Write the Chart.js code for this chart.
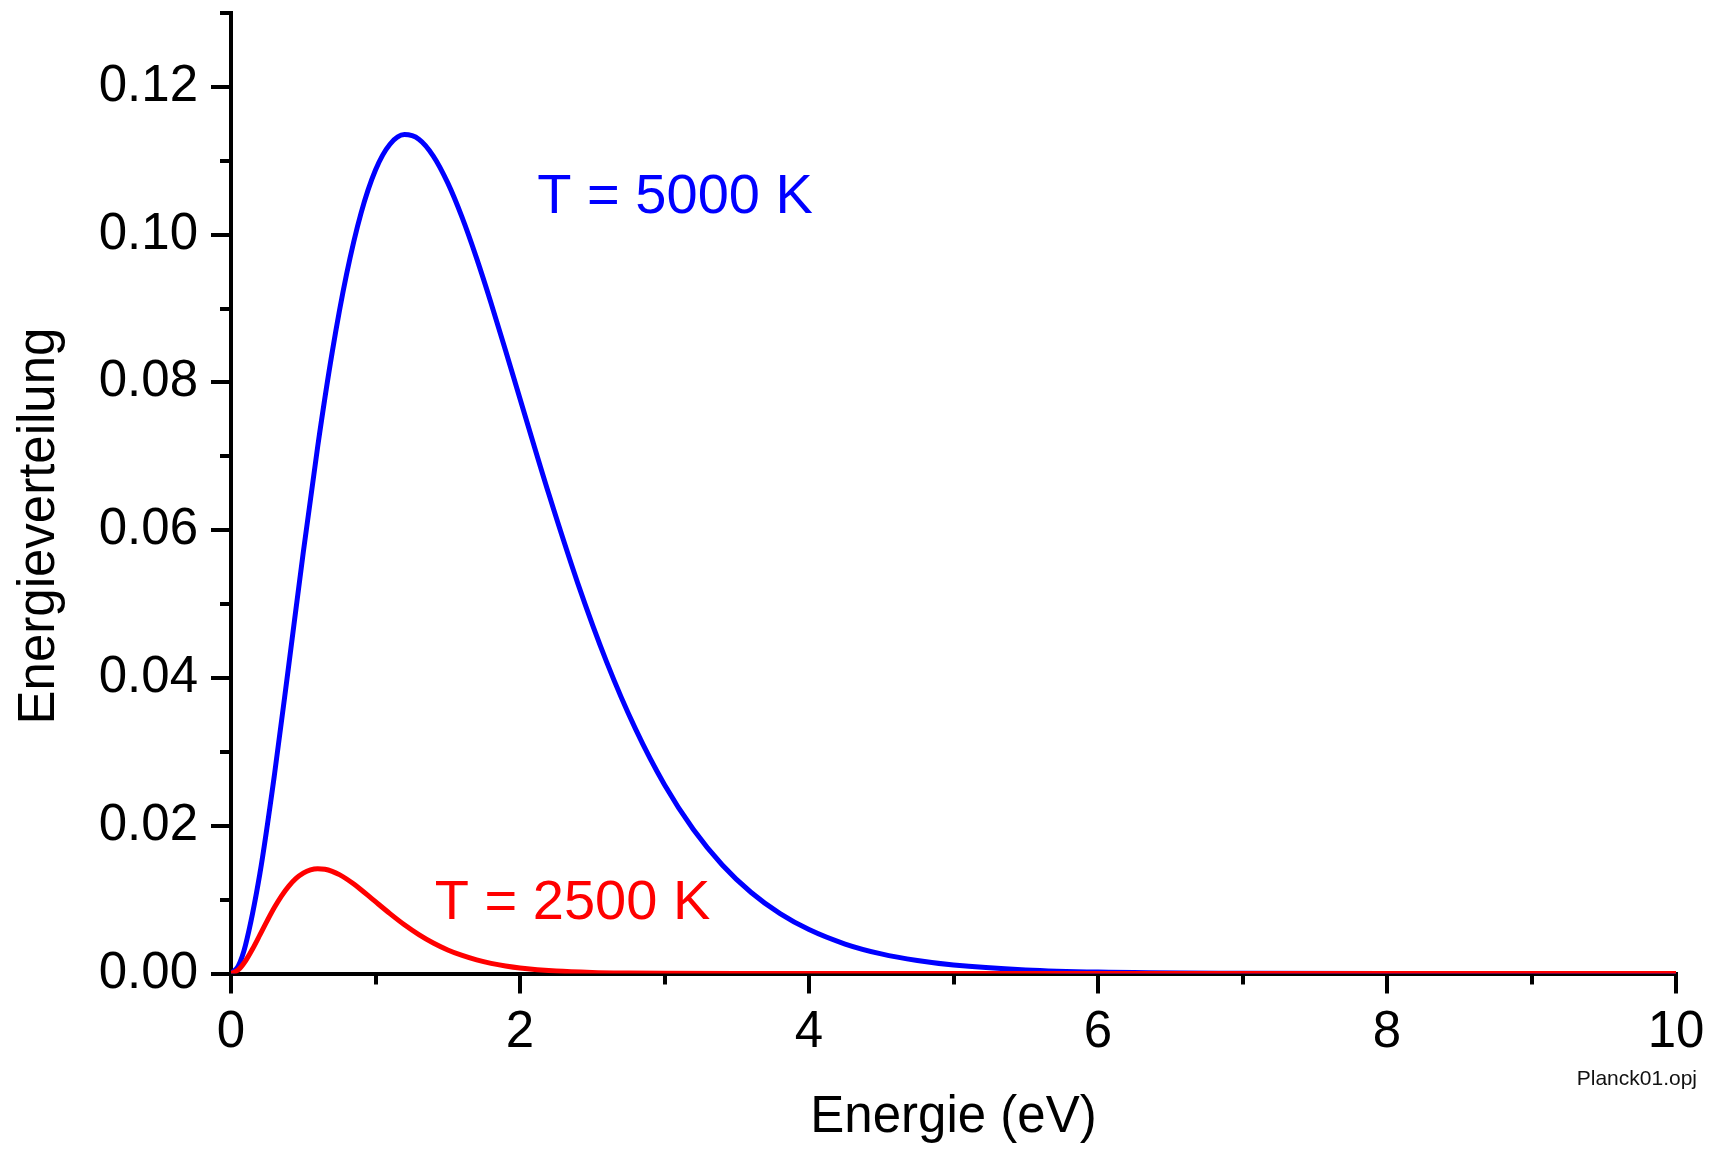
<!DOCTYPE html>
<html>
<head>
<meta charset="utf-8">
<title>Planck01</title>
<script src="https://cdn.jsdelivr.net/npm/chart.js@4.4.1/dist/chart.umd.min.js"></script>
<style>
  html, body { margin: 0; padding: 0; background: #fff; }
  #chart { display: block; }
</style>
</head>
<body>
<canvas id="chart" width="1719" height="1149"></canvas>
<script>
// T = 5000 K curve
const energyBlue = [0, 0.05, 0.1, 0.2, 0.3, 0.4, 0.5, 0.6, 0.7, 0.8, 0.9, 1.0, 1.1, 1.2, 1.3, 1.4, 1.5,
    1.6, 1.7, 1.8, 1.9, 2.0, 2.2, 2.4, 2.6, 2.8, 3.0, 3.2, 3.4, 3.6, 3.8, 4.0, 4.25, 4.5, 4.75,
    5.0, 5.5, 6.0, 7.0, 8.0, 9.0, 10.0];
const valuesBlue = [0, 0.00101, 0.00382, 0.01353, 0.02680, 0.04178, 0.05698, 0.07133, 0.08405, 0.09466,
    0.10292, 0.10875, 0.11223, 0.11354, 0.11292, 0.11064, 0.10700, 0.10230, 0.09679, 0.09073, 0.08433,
    0.07779, 0.06485, 0.05281, 0.04215, 0.03307, 0.02555, 0.01949, 0.01469, 0.01096, 0.00810, 0.00594,
    0.00399, 0.00265, 0.00175, 0.00114, 0.00048, 0.00019, 0.00003, 0, 0, 0];

// T = 2500 K curve
const energyRed = [0, 0.05, 0.1, 0.15, 0.2, 0.25, 0.3, 0.35, 0.4, 0.45, 0.5, 0.55, 0.6, 0.65, 0.7, 0.75,
    0.8, 0.85, 0.9, 0.95, 1.0, 1.1, 1.2, 1.3, 1.4, 1.5, 1.6, 1.7, 1.8, 1.9, 2.0, 2.25, 2.5, 2.75, 3.0,
    3.5, 4.0, 10.0];
const valuesRed = [0, 0.00048, 0.00169, 0.00335, 0.00522, 0.00712, 0.00892, 0.01051, 0.01183, 0.01287,
    0.01359, 0.01403, 0.01419, 0.01412, 0.01383, 0.01338, 0.01279, 0.01210, 0.01134, 0.01054, 0.00972,
    0.00811, 0.00660, 0.00527, 0.00413, 0.00319, 0.00244, 0.00184, 0.00137, 0.00101, 0.00074, 0.00033,
    0.00014, 0.00006, 0.00002, 0, 0, 0];

// Tick values
const xTicks = [0, 2, 4, 6, 8, 10];
const xMinorTicks = [1, 3, 5, 7, 9];
const yTicks = [0, 0.02, 0.04, 0.06, 0.08, 0.10, 0.12];
const yMinorTicks = [0.01, 0.03, 0.05, 0.07, 0.09, 0.11, 0.13];

const FONT = '"Liberation Sans", Arial, sans-serif';
const AXIS_W = 4;

function toPoints(xs, ys) {
    return xs.map((x, i) => ({ x: x, y: ys[i] }));
}

// Minor ticks, y axis title, curve labels and file note
const extrasPlugin = {
    id: 'extras',
    beforeDatasetsDraw(chart) {
        const ctx = chart.ctx;
        const xs = chart.scales.x;
        const ys = chart.scales.y;
        const area = chart.chartArea;
        ctx.save();
        ctx.strokeStyle = '#000';
        ctx.lineWidth = AXIS_W;
        xMinorTicks.forEach(v => {
            const px = Math.round(xs.getPixelForValue(v));
            ctx.beginPath();
            ctx.moveTo(px, area.bottom);
            ctx.lineTo(px, area.bottom + 11);
            ctx.stroke();
        });
        yMinorTicks.forEach(v => {
            const py = Math.round(ys.getPixelForValue(v));
            ctx.beginPath();
            ctx.moveTo(area.left, py);
            ctx.lineTo(area.left - 11, py);
            ctx.stroke();
        });
        ctx.restore();
    },
    afterDraw(chart) {
        const ctx = chart.ctx;
        const xs = chart.scales.x;
        const ys = chart.scales.y;
        ctx.save();

        // y axis title
        ctx.fillStyle = '#000';
        ctx.font = '51px ' + FONT;
        ctx.textAlign = 'center';
        ctx.textBaseline = 'alphabetic';
        ctx.translate(54, 526);
        ctx.rotate(-Math.PI / 2);
        ctx.fillText('Energieverteilung', 0, 0);
        ctx.setTransform(1, 0, 0, 1, 0, 0);

        // curve labels
        ctx.textAlign = 'left';
        ctx.font = '56px ' + FONT;
        ctx.fillStyle = '#0000ff';
        ctx.fillText('T = 5000 K', xs.getPixelForValue(2.12), ys.getPixelForValue(0.1029));
        ctx.fillStyle = '#ff0000';
        ctx.fillText('T = 2500 K', xs.getPixelForValue(1.41), ys.getPixelForValue(0.00738));

        // file name
        ctx.textAlign = 'right';
        ctx.font = '21px ' + FONT;
        ctx.fillStyle = '#111';
        ctx.fillText('Planck01.opj', 1697, 1085);
        ctx.restore();
    }
};

const axisGrid = {
    drawOnChartArea: false,
    drawTicks: true,
    tickLength: 20,
    tickWidth: AXIS_W,
    tickColor: '#000',
    color: '#000',
    lineWidth: AXIS_W
};

new Chart(document.getElementById('chart').getContext('2d'), {
    type: 'line',
    data: {
        datasets: [
            {
                label: 'T = 5000 K',
                data: toPoints(energyBlue, valuesBlue),
                borderColor: '#0000ff',
                borderWidth: 5,
                pointRadius: 0,
                cubicInterpolationMode: 'monotone',
                borderCapStyle: 'round',
                borderJoinStyle: 'round',
                order: 2
            },
            {
                label: 'T = 2500 K',
                data: toPoints(energyRed, valuesRed),
                borderColor: '#ff0000',
                borderWidth: 5,
                pointRadius: 0,
                cubicInterpolationMode: 'monotone',
                borderCapStyle: 'round',
                borderJoinStyle: 'round',
                order: 1
            }
        ]
    },
    options: {
        responsive: false,
        animation: false,
        devicePixelRatio: 1,
        layout: { padding: { left: 0, right: 43, top: 13, bottom: 0 } },
        plugins: {
            legend: { display: false },
            tooltip: { enabled: false }
        },
        scales: {
            x: {
                type: 'linear',
                min: 0,
                max: 10,
                afterBuildTicks: scale => { scale.ticks = xTicks.map(v => ({ value: v })); },
                afterFit: scale => { scale.height = 175.5; },
                ticks: {
                    color: '#000',
                    font: { family: FONT, size: 51 },
                    padding: 9,
                    maxRotation: 0,
                    callback: v => String(v)
                },
                grid: axisGrid,
                border: { display: true, color: '#000', width: AXIS_W },
                title: {
                    display: true,
                    text: 'Energie (eV)',
                    color: '#000',
                    font: { family: FONT, size: 51 },
                    padding: { top: 0, bottom: 0 }
                }
            },
            y: {
                type: 'linear',
                min: 0,
                max: 0.13,
                afterBuildTicks: scale => { scale.ticks = yTicks.map(v => ({ value: v })); },
                afterFit: scale => {
                    scale.width = 231;
                    scale.paddingTop = 0;
                    scale.paddingBottom = 0;
                },
                ticks: {
                    color: '#000',
                    font: { family: FONT, size: 51 },
                    padding: 13,
                    callback: v => Number(v).toFixed(2)
                },
                grid: axisGrid,
                border: { display: true, color: '#000', width: AXIS_W }
            }
        }
    },
    plugins: [extrasPlugin]
});
</script>
</body>
</html>
